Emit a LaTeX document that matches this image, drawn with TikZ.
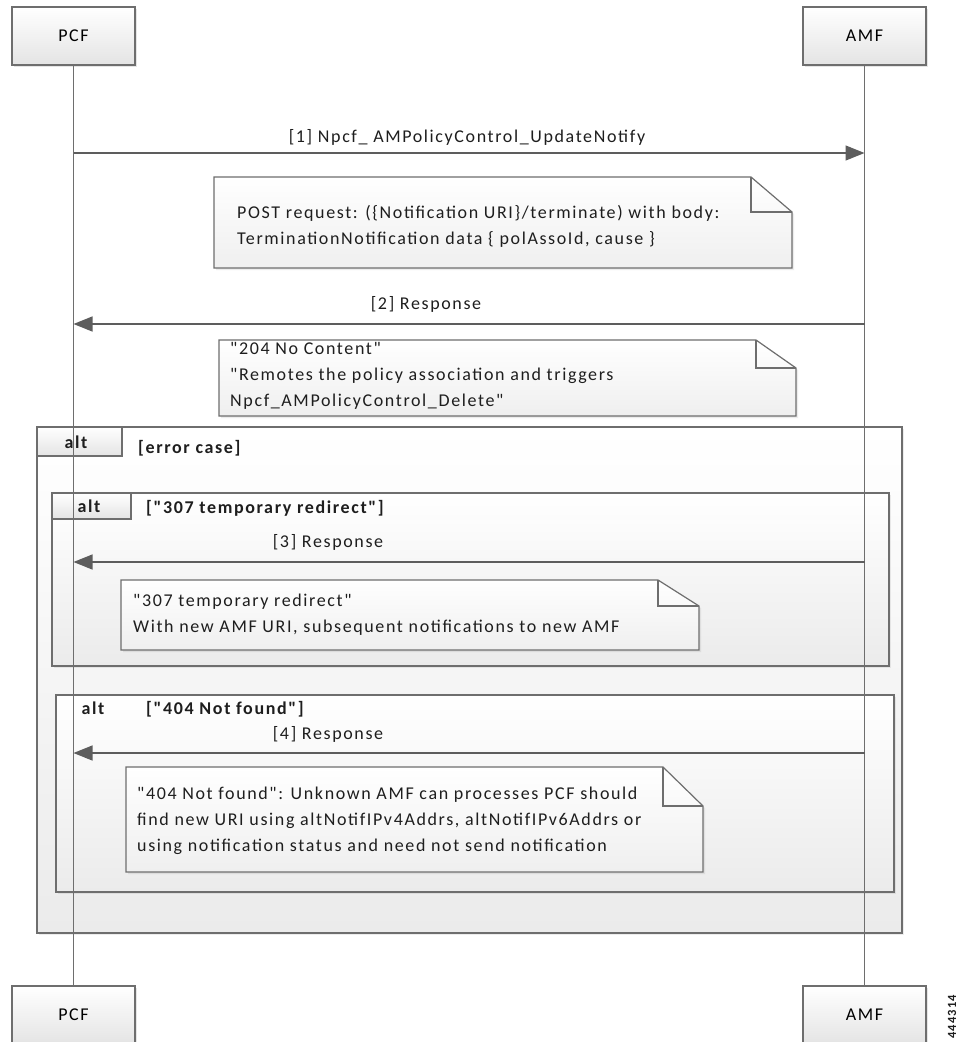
\documentclass[tikz,border=0pt]{standalone}
\usepackage{fontspec}
\setmainfont{Carlito}[Ligatures=TeXOff, LetterSpace=9]
\usetikzlibrary{arrows.meta,shadows}
\definecolor{ln}{HTML}{6E6E6E}
\definecolor{txt}{HTML}{1E1E1E}
\definecolor{shadeA}{HTML}{E4E4E4}
\definecolor{shadeF}{HTML}{EBEBEB}
\definecolor{shadeN}{HTML}{EFEFEF}
\tikzset{
  actor/.style={draw=ln, line width=1.2pt, top color=white, bottom color=shadeA,
    minimum width=123pt, minimum height=58pt, inner sep=0pt,
    drop shadow={shadow xshift=2pt, shadow yshift=-2pt, opacity=.2}},
  framebox/.style={draw=ln, line width=1.2pt, top color=white, bottom color=shadeF,
    drop shadow={shadow xshift=2pt, shadow yshift=-2pt, opacity=.15}},
  tabbox/.style={draw=ln, line width=1.2pt, top color=white, bottom color=shadeA},
  notebox/.style={draw=ln, line width=1.2pt, top color=white, bottom color=shadeN,
    drop shadow={shadow xshift=2pt, shadow yshift=-2pt, opacity=.15}},
  foldline/.style={draw=ln, line width=1.2pt},
  lifeline/.style={draw=ln, line width=1.3pt},
  msg/.style={draw=ln!85!black, line width=1.3pt, -{Triangle[length=19pt,width=15pt]}},
  lbl/.style={inner sep=0pt, text=txt},
  notetext/.style={inner sep=0pt, text=txt, align=left, anchor=west},
  altlbl/.style={inner sep=0pt, text=txt, font=\fontsize{18}{20}\selectfont\bfseries},
}
\newcommand{\mynote}[6]{%
  \path[notebox] (#1,#2) -- (#3-#5,#2) -- (#3,#2+#6) -- (#3,#4) -- (#1,#4) -- cycle;
  \draw[foldline] (#3-#5,#2) -- (#3-#5,#2+#6) -- (#3,#2+#6);
}
\begin{document}
\begin{tikzpicture}[x=1pt, y=-1pt, font=\fontsize{18}{26}\selectfont]
\useasboundingbox (0,0) rectangle (959,1042);
\fill[white] (0,0) rectangle (959,1042);

% frames
\path[framebox] (37,427) rectangle (902,933);
\path[tabbox] (37,427) rectangle (122,456);
\node[altlbl] (altA) at (76,442) {alt};
\node[altlbl, anchor=west] (condA) at (138,448) {[error case]};

\path[framebox] (52,493) rectangle (889,666);
\path[tabbox] (52,493) rectangle (131,519);
\node[altlbl] (altB) at (89,506) {alt};
\node[altlbl, anchor=west] (condB) at (146,508) {["307 temporary redirect"]};

\path[framebox] (56,695) rectangle (894,892);
\node[altlbl] (altC) at (93,708) {alt};
\node[altlbl, anchor=west] (condC) at (146,709) {["404 Not found"]};

% notes
\mynote{214}{177}{792}{268}{41}{35}
\node[notetext] (n1) at (237,226) {POST request: (\{Notification URI\}/terminate) with body:\\TerminationNotification data \{ polAssoId, cause \}};
\mynote{219}{340}{796}{416}{40}{28}
\node[notetext] (n2) at (230,376) {"204 No Content"\\"Remotes the policy association and triggers\\Npcf\_AMPolicyControl\_Delete"};
\mynote{121}{580}{699}{650}{41}{26}
\node[notetext] (n3) at (133,615) {"307 temporary redirect"\\With new AMF URI, subsequent notifications to new AMF};
\mynote{126}{767}{703}{872}{40}{39}
\node[notetext] (n4) at (137,821) {"404 Not found": Unknown AMF can processes PCF should\\find new URI using altNotifIPv4Addrs, altNotifIPv6Addrs or\\using notification status and need not send notification};

% actors
\node[actor] (pcfT) at (73.5,36) {PCF};
\node[actor] (amfT) at (864.5,36) {AMF};
\node[actor] (pcfB) at (73.5,1015) {PCF};
\node[actor] (amfB) at (864.5,1015) {AMF};

% lifelines
\draw[lifeline] (pcfT.south) -- (pcfB.north);
\draw[lifeline] (amfT.south) -- (amfB.north);

% messages
\coordinate (y1) at (0,153);
\coordinate (y2) at (0,324);
\coordinate (y3) at (0,562);
\coordinate (y4) at (0,753);
\draw[msg] (pcfT.south |- y1) -- (amfT.south |- y1);
\node[lbl] (m1) at (467,137) {[1] Npcf\_ AMPolicyControl\_UpdateNotify};
\draw[msg] (amfT.south |- y2) -- (pcfT.south |- y2);
\node[lbl] (m2) at (426,304) {[2] Response};
\draw[msg] (amfT.south |- y3) -- (pcfT.south |- y3);
\node[lbl] (m3) at (328,542) {[3] Response};
\draw[msg] (amfT.south |- y4) -- (pcfT.south |- y4);
\node[lbl] (m4) at (328,734) {[4] Response};

\node[inner sep=0pt, rotate=90, font=\fontsize{12.5}{12.5}\selectfont\bfseries, text=txt] (fig) at (952,1017) {444314};
\end{tikzpicture}
\end{document}
